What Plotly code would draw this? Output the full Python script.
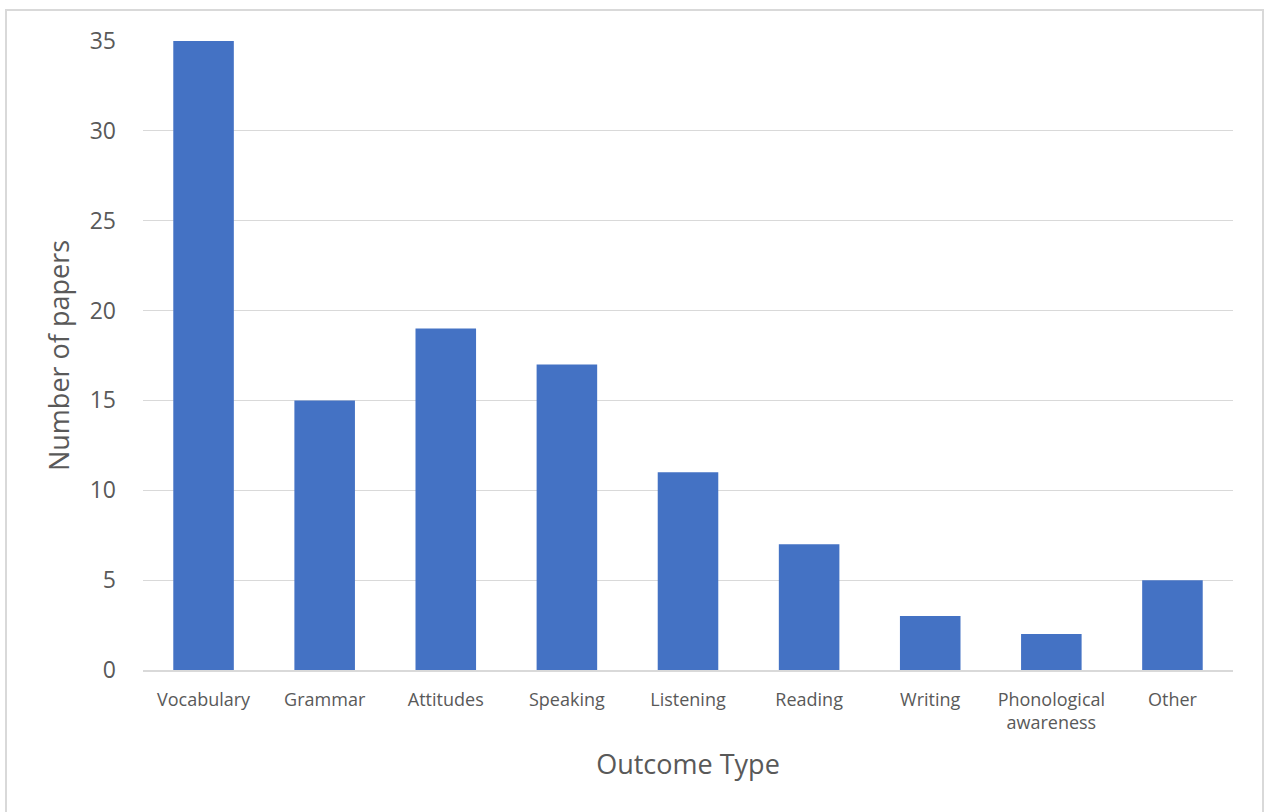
import plotly.graph_objects as go

categories = ["Vocabulary", "Grammar", "Attitudes", "Speaking", "Listening",
              "Reading", "Writing", "Phonological<br>awareness", "Other"]
papers = [35, 15, 19, 17, 11, 7, 3, 2, 5]
y_ticks = [0, 5, 10, 15, 20, 25, 30, 35]

FONT = "Open Sans, Calibri, sans-serif"
TEXT = "#595959"

# plot area in pixels
L, R, T, B = 143, 35, 41, 142
W, H = 1268, 812
PW, PH = W - L - R, H - T - B

fig = go.Figure(go.Bar(
    x=categories, y=papers,
    marker=dict(color="#4472C4", line=dict(width=0)),
    width=0.5,
))

# light frame around the whole chart
frame = dict(
    type="rect", xref="paper", yref="paper",
    x0=(6 - L) / PW, x1=(1263 - L) / PW,
    y0=(T + PH - 820) / PH, y1=(T + PH - 10) / PH,
    line=dict(color="#d9d9d9", width=2), fillcolor="rgba(0,0,0,0)",
    layer="below",
)

fig.update_layout(
    width=W, height=H,
    margin=dict(l=L, r=R, t=T, b=B),
    paper_bgcolor="white", plot_bgcolor="white",
    font=dict(family=FONT, color=TEXT),
    showlegend=False,
    xaxis=dict(
        title=dict(text="Outcome Type", font=dict(size=27, color=TEXT), standoff=22),
        tickfont=dict(size=18, color=TEXT),
        showline=True, linecolor="#d9d9d9", linewidth=2,
        showgrid=False, ticks="", ticklabelstandoff=12,
    ),
    yaxis=dict(
        title=dict(text="Number of papers", font=dict(size=27, color=TEXT), standoff=12),
        range=[0, 35], tickvals=y_ticks,
        tickfont=dict(size=23, color=TEXT),
        showgrid=True, gridcolor="#d9d9d9", gridwidth=1.3,
        zeroline=False, showline=False, ticks="", ticklabelstandoff=26,
    ),
    shapes=[frame],
)

fig.write_html("out.html")
